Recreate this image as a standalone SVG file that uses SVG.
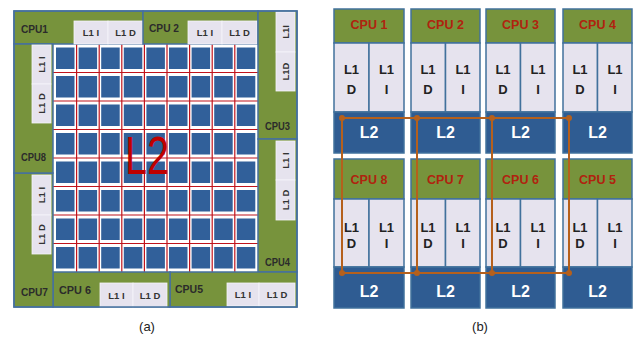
<svg xmlns="http://www.w3.org/2000/svg" xmlns:xlink="http://www.w3.org/1999/xlink" width="635" height="337" viewBox="0 0 635 337">
<style>
text{font-family:"Liberation Sans",Arial,sans-serif}
.g{fill:#77933C;stroke:#46709E;stroke-width:1.5}
.l1{fill:#E6E3EE;stroke:#F6F5FA;stroke-width:0.8}
.cl{font-size:11.5px;font-weight:bold;fill:#2B2B2B}
.ll{font-size:9.5px;font-weight:bold;fill:#333;text-anchor:middle}
.sq{fill:#31609A}
.red{stroke:#C0141C;stroke-width:1.2}
.hd{fill:#77933C;stroke:#41719C;stroke-width:1.5}
.bl1{fill:#E6E3EE;stroke:#41719C;stroke-width:1.5}
.bl2{fill:#2F5C92;stroke:#41719C;stroke-width:1.5}
.bc{font-size:12.5px;font-weight:bold;fill:#B0230F;text-anchor:middle}
.bt{font-size:13px;font-weight:bold;fill:#222;text-anchor:middle}
.b2{font-size:16px;font-weight:bold;fill:#fff;text-anchor:middle}
.wire{stroke:#B5601C;stroke-width:2;fill:none}
.dot{fill:#B5601C}
.cap{font-size:13px;fill:#222;text-anchor:middle}
</style>
<defs>
<g id="row">
<rect class="sq" x="56" y="47.5" width="18.5" height="21.5"/>
<rect class="sq" x="78.6" y="47.5" width="18.5" height="21.5"/>
<rect class="sq" x="101.2" y="47.5" width="18.5" height="21.5"/>
<rect class="sq" x="123.8" y="47.5" width="18.5" height="21.5"/>
<rect class="sq" x="146.4" y="47.5" width="18.5" height="21.5"/>
<rect class="sq" x="169" y="47.5" width="18.5" height="21.5"/>
<rect class="sq" x="191.6" y="47.5" width="18.5" height="21.5"/>
<rect class="sq" x="214.2" y="47.5" width="18.5" height="21.5"/>
<rect class="sq" x="236.8" y="47.5" width="18.5" height="21.5"/>
</g>
</defs>
<rect width="635" height="337" fill="#fff"/>

<!-- Panel (a) -->
<g id="a-grid">
<rect x="53" y="44" width="205" height="228" fill="#fff"/>
<use xlink:href="#row"/>
<use xlink:href="#row" y="28.5"/>
<use xlink:href="#row" y="57"/>
<use xlink:href="#row" y="85.5"/>
<use xlink:href="#row" y="114"/>
<use xlink:href="#row" y="142.5"/>
<use xlink:href="#row" y="171"/>
<use xlink:href="#row" y="199.5"/>
<g class="red">
<line x1="76.6" y1="44" x2="76.6" y2="272"/>
<line x1="99.2" y1="44" x2="99.2" y2="272"/>
<line x1="121.8" y1="44" x2="121.8" y2="272"/>
<line x1="144.4" y1="44" x2="144.4" y2="272"/>
<line x1="167" y1="44" x2="167" y2="272"/>
<line x1="189.6" y1="44" x2="189.6" y2="272"/>
<line x1="212.2" y1="44" x2="212.2" y2="272"/>
<line x1="234.8" y1="44" x2="234.8" y2="272"/>
<line x1="53" y1="72.5" x2="258" y2="72.5"/>
<line x1="53" y1="101" x2="258" y2="101"/>
<line x1="53" y1="129.5" x2="258" y2="129.5"/>
<line x1="53" y1="158" x2="258" y2="158"/>
<line x1="53" y1="186.5" x2="258" y2="186.5"/>
<line x1="53" y1="215" x2="258" y2="215"/>
<line x1="53" y1="243.5" x2="258" y2="243.5"/>
</g>
<text x="125" y="174" font-size="54" fill="#C00000" textLength="44" lengthAdjust="spacingAndGlyphs">L2</text>
</g>

<g id="cpu1">
<rect class="g" x="14" y="11" width="129" height="33"/>
<rect class="l1" x="74" y="21" width="34" height="23"/>
<rect class="l1" x="108" y="21" width="35" height="23"/>
<text class="cl" x="21" y="33" textLength="27" lengthAdjust="spacingAndGlyphs">CPU1</text>
<text class="ll" x="91" y="36">L1 I</text>
<text class="ll" x="125.5" y="36">L1 D</text>
</g>
<g id="cpu2">
<rect class="g" x="143" y="11" width="115" height="33"/>
<rect class="l1" x="188" y="21" width="34" height="23"/>
<rect class="l1" x="222" y="21" width="35" height="23"/>
<text class="cl" x="149" y="32" textLength="30" lengthAdjust="spacingAndGlyphs">CPU 2</text>
<text class="ll" x="205" y="36">L1 I</text>
<text class="ll" x="239.5" y="36">L1 D</text>
</g>
<g id="cpu3">
<rect class="g" x="258" y="11" width="39" height="128"/>
<rect class="l1" x="276" y="12" width="19" height="40"/>
<rect class="l1" x="276" y="52" width="19" height="39"/>
<text class="cl" x="265" y="130" textLength="25" lengthAdjust="spacingAndGlyphs">CPU3</text>
<text class="ll" transform="translate(285.5,32) rotate(-90)" dy="3.4">L1I</text>
<text class="ll" transform="translate(285.5,71.5) rotate(-90)" dy="3.4">L1D</text>
</g>
<g id="cpu4">
<rect class="g" x="258" y="139" width="39" height="133"/>
<rect class="l1" x="276" y="141" width="19" height="39"/>
<rect class="l1" x="276" y="180" width="19" height="40"/>
<text class="cl" x="265" y="266" textLength="25" lengthAdjust="spacingAndGlyphs">CPU4</text>
<text class="ll" transform="translate(285.5,160.5) rotate(-90)" dy="3.4">L1 I</text>
<text class="ll" transform="translate(285.5,200) rotate(-90)" dy="3.4">L1 D</text>
</g>
<g id="cpu5">
<rect class="g" x="170" y="272" width="127" height="35"/>
<rect class="l1" x="227" y="283" width="32" height="23"/>
<rect class="l1" x="259" y="283" width="36" height="23"/>
<text class="cl" x="175" y="293" textLength="28" lengthAdjust="spacingAndGlyphs">CPU5</text>
<text class="ll" x="243" y="298">L1 I</text>
<text class="ll" x="277" y="298">L1 D</text>
</g>
<g id="cpu6">
<rect class="g" x="53" y="272" width="117" height="35"/>
<rect class="l1" x="100" y="283" width="33" height="24"/>
<rect class="l1" x="133" y="283" width="34" height="24"/>
<text class="cl" x="59" y="294" font-size="13" textLength="32" lengthAdjust="spacingAndGlyphs">CPU 6</text>
<text class="ll" x="116.5" y="299">L1 I</text>
<text class="ll" x="150" y="299">L1 D</text>
</g>
<g id="cpu7">
<rect class="g" x="14" y="173" width="39" height="134"/>
<rect class="l1" x="32" y="175" width="19" height="40"/>
<rect class="l1" x="32" y="215" width="19" height="39"/>
<text class="cl" x="21" y="296" textLength="27" lengthAdjust="spacingAndGlyphs">CPU7</text>
<text class="ll" transform="translate(41.5,195) rotate(-90)" dy="3.4">L1 I</text>
<text class="ll" transform="translate(41.5,234.5) rotate(-90)" dy="3.4">L1 D</text>
</g>
<g id="cpu8">
<rect class="g" x="14" y="44" width="39" height="129"/>
<rect class="l1" x="32" y="45" width="19" height="39"/>
<rect class="l1" x="32" y="84" width="19" height="39"/>
<text class="cl" x="21" y="161" textLength="25" lengthAdjust="spacingAndGlyphs">CPU8</text>
<text class="ll" transform="translate(41.5,64.5) rotate(-90)" dy="3.4">L1 I</text>
<text class="ll" transform="translate(41.5,103.5) rotate(-90)" dy="3.4">L1 D</text>
</g>
<rect x="14" y="11" width="283" height="296" fill="none" stroke="#46709E" stroke-width="1.5"/>
<text class="cap" x="147" y="331">(a)</text>

<!-- Panel (b) -->
<g id="b-cpu1">
<rect class="hd" x="334" y="9" width="70" height="34"/>
<rect class="bl1" x="334" y="43" width="35" height="69"/>
<rect class="bl1" x="369" y="43" width="35" height="69"/>
<rect class="bl2" x="334" y="112" width="70" height="41"/>
<text class="bc" x="369" y="29">CPU 1</text>
<text class="bt" x="351.5" y="74">L1</text><text class="bt" x="351.5" y="94">D</text>
<text class="bt" x="386.5" y="74">L1</text><text class="bt" x="386.5" y="94">I</text>
<text class="b2" x="369" y="138">L2</text>
</g>
<g id="b-cpu2">
<rect class="hd" x="411" y="9" width="69" height="34"/>
<rect class="bl1" x="411" y="43" width="34.5" height="69"/>
<rect class="bl1" x="445.5" y="43" width="34.5" height="69"/>
<rect class="bl2" x="411" y="112" width="69" height="41"/>
<text class="bc" x="445.5" y="29">CPU 2</text>
<text class="bt" x="428" y="74">L1</text><text class="bt" x="428" y="94">D</text>
<text class="bt" x="463" y="74">L1</text><text class="bt" x="463" y="94">I</text>
<text class="b2" x="445.5" y="138">L2</text>
</g>
<g id="b-cpu3">
<rect class="hd" x="486" y="9" width="69" height="34"/>
<rect class="bl1" x="486" y="43" width="34.5" height="69"/>
<rect class="bl1" x="520.5" y="43" width="34.5" height="69"/>
<rect class="bl2" x="486" y="112" width="69" height="41"/>
<text class="bc" x="520.5" y="29">CPU 3</text>
<text class="bt" x="503" y="74">L1</text><text class="bt" x="503" y="94">D</text>
<text class="bt" x="538" y="74">L1</text><text class="bt" x="538" y="94">I</text>
<text class="b2" x="520.5" y="138">L2</text>
</g>
<g id="b-cpu4">
<rect class="hd" x="563" y="9" width="69" height="34"/>
<rect class="bl1" x="563" y="43" width="34.5" height="69"/>
<rect class="bl1" x="597.5" y="43" width="34.5" height="69"/>
<rect class="bl2" x="563" y="112" width="69" height="41"/>
<text class="bc" x="597.5" y="29">CPU 4</text>
<text class="bt" x="580" y="74">L1</text><text class="bt" x="580" y="94">D</text>
<text class="bt" x="615" y="74">L1</text><text class="bt" x="615" y="94">I</text>
<text class="b2" x="597.5" y="138">L2</text>
</g>
<g id="b-cpu8">
<rect class="hd" x="334" y="159" width="70" height="40"/>
<rect class="bl1" x="334" y="199" width="35" height="68"/>
<rect class="bl1" x="369" y="199" width="35" height="68"/>
<rect class="bl2" x="334" y="267" width="70" height="41"/>
<text class="bc" x="369" y="184">CPU 8</text>
<text class="bt" x="351.5" y="232">L1</text><text class="bt" x="351.5" y="248">D</text>
<text class="bt" x="386.5" y="232">L1</text><text class="bt" x="386.5" y="248">I</text>
<text class="b2" x="369" y="297">L2</text>
</g>
<g id="b-cpu7">
<rect class="hd" x="411" y="159" width="69" height="40"/>
<rect class="bl1" x="411" y="199" width="34.5" height="68"/>
<rect class="bl1" x="445.5" y="199" width="34.5" height="68"/>
<rect class="bl2" x="411" y="267" width="69" height="41"/>
<text class="bc" x="445.5" y="184">CPU 7</text>
<text class="bt" x="428" y="232">L1</text><text class="bt" x="428" y="248">D</text>
<text class="bt" x="463" y="232">L1</text><text class="bt" x="463" y="248">I</text>
<text class="b2" x="445.5" y="297">L2</text>
</g>
<g id="b-cpu6">
<rect class="hd" x="486" y="159" width="69" height="40"/>
<rect class="bl1" x="486" y="199" width="34.5" height="68"/>
<rect class="bl1" x="520.5" y="199" width="34.5" height="68"/>
<rect class="bl2" x="486" y="267" width="69" height="41"/>
<text class="bc" x="520.5" y="184">CPU 6</text>
<text class="bt" x="503" y="232">L1</text><text class="bt" x="503" y="248">D</text>
<text class="bt" x="538" y="232">L1</text><text class="bt" x="538" y="248">I</text>
<text class="b2" x="520.5" y="297">L2</text>
</g>
<g id="b-cpu5">
<rect class="hd" x="563" y="159" width="69" height="40"/>
<rect class="bl1" x="563" y="199" width="34.5" height="68"/>
<rect class="bl1" x="597.5" y="199" width="34.5" height="68"/>
<rect class="bl2" x="563" y="267" width="69" height="41"/>
<text class="bc" x="597.5" y="184">CPU 5</text>
<text class="bt" x="580" y="232">L1</text><text class="bt" x="580" y="248">D</text>
<text class="bt" x="615" y="232">L1</text><text class="bt" x="615" y="248">I</text>
<text class="b2" x="597.5" y="297">L2</text>
</g>
<g id="connectors">
<path class="wire" d="M342 118H569M342 273H569M342 118V273M417 118V273M492 118V273M569 118V273"/>
<circle class="dot" cx="342" cy="118" r="3"/>
<circle class="dot" cx="417" cy="118" r="3"/>
<circle class="dot" cx="492" cy="118" r="3"/>
<circle class="dot" cx="569" cy="118" r="3"/>
<circle class="dot" cx="342" cy="273" r="3"/>
<circle class="dot" cx="417" cy="273" r="3"/>
<circle class="dot" cx="492" cy="273" r="3"/>
<circle class="dot" cx="569" cy="273" r="3"/>
</g>
<text class="cap" x="480" y="331">(b)</text>
</svg>
